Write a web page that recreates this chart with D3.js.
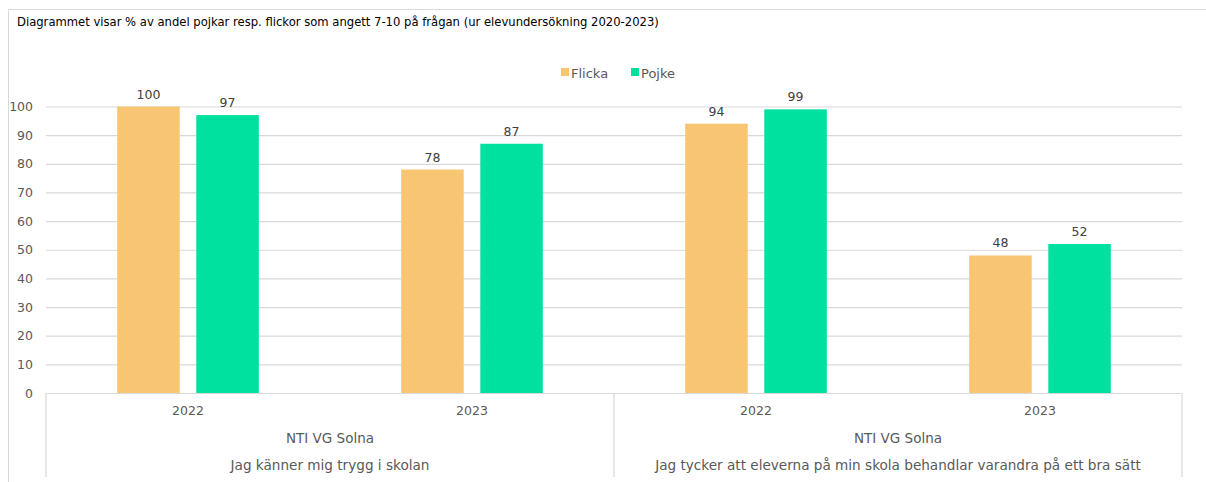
<!DOCTYPE html>
<html><head><meta charset="utf-8">
<script src="https://cdn.jsdelivr.net/npm/d3@7"></script>
<style>
body{margin:0;background:#fff;}
text{font-family:"Century Gothic","DejaVu Sans",sans-serif;}
</style></head>
<body><svg id="c" width="1206" height="482"></svg>
<script>
const title = "Diagrammet visar % av andel pojkar resp. flickor som angett 7-10 på frågan (ur elevundersökning 2020-2023)";
const years = ["2022", "2023", "2022", "2023"];
const schools = ["NTI VG Solna", "NTI VG Solna"];
const questions = ["Jag känner mig trygg i skolan", "Jag tycker att eleverna på min skola behandlar varandra på ett bra sätt"];
const seriesNames = ["Flicka", "Pojke"];
const flicka = [100, 78, 94, 48];
const pojke = [97, 87, 99, 52];
const yTicks = [0, 10, 20, 30, 40, 50, 60, 70, 80, 90, 100];
const colors = ["#F8C572", "#00E09E"];
const FF = '"Century Gothic","DejaVu Sans",sans-serif';

const svg = d3.select("#c");
const L = 46, R = 1182, T = 106.5, B = 393;
const x = d3.scaleBand().domain(d3.range(years.length)).range([L, R]);
const xi = d3.scaleBand().domain(seriesNames).range([0, x.bandwidth()]).paddingInner(0.21).paddingOuter(0.9);
const y = d3.scaleLinear().domain([0, 100]).range([B, T]);

// outer border
svg.append("path").attr("d", `M8.5,482 V9.5 H1206`).attr("fill","none").attr("stroke","#d9d9d9");

svg.append("text").attr("x", 17).attr("y", 26).attr("font-size", 11.6).attr("fill", "#000").text(title);

// grid
const yAxis = d3.axisLeft(y).tickValues(yTicks).tickSize(-(R - L)).tickPadding(13);
const ga = svg.append("g").attr("transform", `translate(${L},0)`).call(yAxis);
ga.select(".domain").remove();
ga.selectAll(".tick line").attr("stroke", "#d9d9d9").attr("stroke-width", 1.2);
ga.selectAll(".tick text").attr("font-size", 12.5).attr("fill", "#595959").attr("font-family", FF);

const series = [flicka, pojke];
series.forEach((vals, si) => {
  svg.append("g").selectAll("rect").data(vals).join("rect")
    .attr("x", (d, i) => x(i) + xi(seriesNames[si]))
    .attr("y", d => y(d))
    .attr("width", xi.bandwidth())
    .attr("height", d => B - y(d))
    .attr("fill", colors[si]);
  svg.append("g").selectAll("text").data(vals).join("text")
    .attr("x", (d, i) => x(i) + xi(seriesNames[si]) + xi.bandwidth() / 2)
    .attr("y", d => y(d) - 8)
    .attr("text-anchor", "middle").attr("font-size", 12.5).attr("fill", "#404040")
    .text(d => d);
});

// category axis
const ax = svg.append("g");
ax.append("line").attr("x1", L).attr("x2", R).attr("y1", B + 0.5).attr("y2", B + 0.5).attr("stroke", "#d9d9d9").attr("stroke-width", 1.2);
const mid = (L + R) / 2;
[L, mid, R].forEach(xx => ax.append("line").attr("x1", xx).attr("x2", xx).attr("y1", B).attr("y2", 477).attr("stroke", "#d9d9d9").attr("stroke-width", 1.2));
ax.selectAll("text.yr").data(years).join("text").attr("class", "yr")
  .attr("x", (d, i) => x(i) + x.bandwidth() / 2).attr("y", 415)
  .attr("text-anchor", "middle").attr("font-size", 12.5).attr("fill", "#595959").text(d => d);
const gx = d3.scaleBand().domain([0, 1]).range([L, R]);
ax.selectAll("text.sc").data(schools).join("text").attr("class", "sc")
  .attr("x", (d, i) => gx(i) + gx.bandwidth() / 2).attr("y", 443)
  .attr("text-anchor", "middle").attr("font-size", 13.5).attr("fill", "#595959").text(d => d);
ax.selectAll("text.q").data(questions).join("text").attr("class", "q")
  .attr("x", (d, i) => gx(i) + gx.bandwidth() / 2).attr("y", 470)
  .attr("text-anchor", "middle").attr("font-size", 13.6).attr("fill", "#595959").text(d => d);

// legend
const lg = svg.append("g");
const lx = [561, 631];
seriesNames.forEach((n, i) => {
  lg.append("rect").attr("x", lx[i]).attr("y", 68).attr("width", 8).attr("height", 8).attr("fill", colors[i]);
  lg.append("text").attr("x", lx[i] + 10).attr("y", 78).attr("font-size", 13).attr("fill", "#595959").text(n);
});
</script></body></html>
